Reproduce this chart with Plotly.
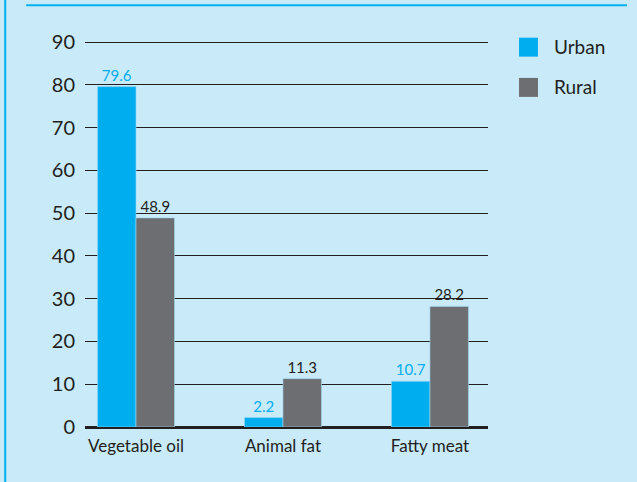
import plotly.graph_objects as go

categories = ['Vegetable oil', 'Animal fat', 'Fatty meat']
urban = [79.6, 2.2, 10.7]
rural = [48.9, 11.3, 28.2]
series_names = ['Urban', 'Rural']
y_ticks = [0, 10, 20, 30, 40, 50, 60, 70, 80, 90]

BG = '#C8EAF9'
CYAN = '#00AEEF'
GREY = '#6D6E71'
INK = '#231F20'
FONT = 'Lato'

fig = go.Figure()
for name, vals, col in [(series_names[0], urban, CYAN), (series_names[1], rural, GREY)]:
    fig.add_trace(go.Bar(
        x=categories, y=vals, name=name,
        marker=dict(color=col, line=dict(color='#9FD8F2', width=0.6)),
        text=[f'{v:.1f}' for v in vals],
        textposition='outside', cliponaxis=False,
        textfont=dict(family=FONT, size=15, color=CYAN if name == 'Urban' else INK),
        showlegend=False,
    ))

# legend drawn by hand so the swatches can be bigger than plotly allows
for i, (name, col) in enumerate([(series_names[0], CYAN), (series_names[1], GREY)]):
    top = 1.006 - i * 0.104
    fig.add_shape(type='rect', xref='paper', yref='paper',
                  x0=1.077, x1=1.124, y0=top - 0.049, y1=top,
                  fillcolor=col, line=dict(width=0))
    fig.add_annotation(xref='paper', yref='paper', x=1.158, y=top - 0.022,
                       text=name, showarrow=False, xanchor='left', yanchor='middle',
                       font=dict(family=FONT, size=19, color=INK))

# frame lines of the panel
fig.add_shape(type='line', xref='paper', yref='paper', x0=-0.146, x1=1.345, y0=1.09, y1=1.09,
              line=dict(color=CYAN, width=2))
fig.add_shape(type='line', xref='paper', yref='paper', x0=-0.198, x1=-0.198, y0=-0.15, y1=1.11,
              line=dict(color=CYAN, width=2))

fig.update_layout(
    width=637, height=482,
    paper_bgcolor=BG, plot_bgcolor=BG,
    margin=dict(l=85, r=149, t=40, b=55),
    barmode='group', bargap=0.476, bargroupgap=0,
    font=dict(family=FONT, color=INK),
)
fig.update_xaxes(range=[-0.347, 2.395], showgrid=False, showline=False, ticks='',
                 ticklabelstandoff=7,
                 tickfont=dict(family=FONT, size=17, color=INK))
fig.update_yaxes(range=[0, 90.5], tickvals=y_ticks, showgrid=True, gridcolor=INK, gridwidth=1,
                 zeroline=True, zerolinecolor=INK, zerolinewidth=3, showline=False,
                 ticks='', ticklabelstandoff=9,
                 tickfont=dict(family=FONT, size=20, color=INK))

fig.write_html('out.html', config={'displayModeBar': False},
               post_script="document.body.style.margin='0';document.body.style.background='%s';" % BG)
